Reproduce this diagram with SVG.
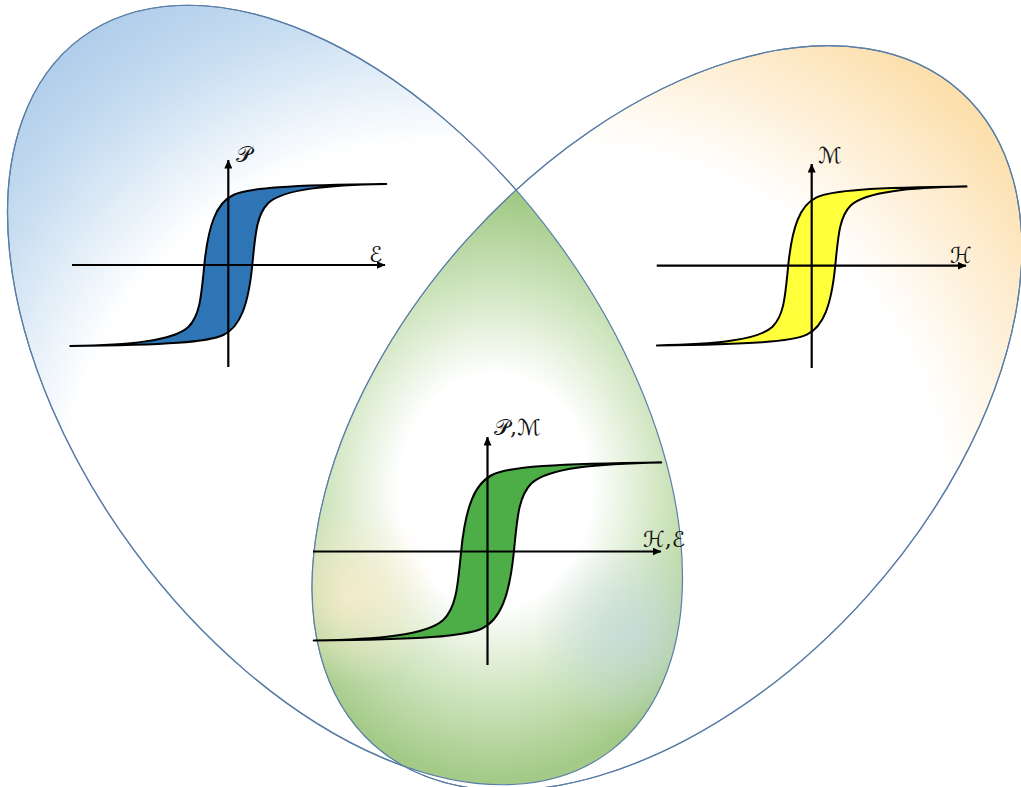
<svg xmlns="http://www.w3.org/2000/svg" xmlns:xlink="http://www.w3.org/1999/xlink" width="1021" height="787" viewBox="0 0 1021 787">
<style>
.rim{stroke:#5b7fa7;stroke-width:1.2}
.rimonly{fill:none;stroke:#5b7fa7;stroke-width:1.2}
.axis{fill:none;stroke:#000;stroke-width:2.2}
.loopline{stroke:#000;stroke-linejoin:round}
.lbl{font-family:"DejaVu Serif","DejaVu Sans",serif;font-size:22px;fill:#111}
</style>
<defs>
<marker id="arr" markerUnits="userSpaceOnUse" markerWidth="9" markerHeight="8" viewBox="0 0 9 8" refX="8.5" refY="4" orient="auto">
<path d="M0,0 L9,4 L0,8 z" fill="#000"/>
</marker>
<radialGradient id="gBlue" gradientUnits="userSpaceOnUse" cx="150" cy="0" r="620">
<stop offset="0" stop-color="#fff"/>
<stop offset="0.6" stop-color="#fff"/>
<stop offset="0.82" stop-color="#c7ddf1"/>
<stop offset="1" stop-color="#a9c8e8"/>
</radialGradient>
<radialGradient id="gOrange" gradientUnits="userSpaceOnUse" cx="-150" cy="0" r="620">
<stop offset="0" stop-color="#fff"/>
<stop offset="0.62" stop-color="#fff"/>
<stop offset="0.84" stop-color="#fde9c6"/>
<stop offset="1" stop-color="#fbd99b"/>
</radialGradient>
<radialGradient id="gGreen" gradientUnits="userSpaceOnUse" cx="0" cy="0" r="1" gradientTransform="translate(495,490) scale(240,290)">
<stop offset="0" stop-color="#fff"/>
<stop offset="0.4" stop-color="#fff"/>
<stop offset="0.68" stop-color="#d3e7c4"/>
<stop offset="1" stop-color="#a3ca87"/>
</radialGradient>
<radialGradient id="gBeige" gradientUnits="userSpaceOnUse" cx="350" cy="595" r="90">
<stop offset="0" stop-color="#fcedcc" stop-opacity="0.8"/>
<stop offset="1" stop-color="#fcedcc" stop-opacity="0"/>
</radialGradient>
<radialGradient id="gSteel" gradientUnits="userSpaceOnUse" cx="630" cy="635" r="95">
<stop offset="0" stop-color="#c6dae2" stop-opacity="0.75"/>
<stop offset="1" stop-color="#c6dae2" stop-opacity="0"/>
</radialGradient>
<clipPath id="clipL">
<ellipse cx="0" cy="0" rx="444" ry="262" transform="translate(345,395) rotate(53.6)"/>
</clipPath>
<clipPath id="clipR">
<ellipse cx="0" cy="0" rx="439" ry="268" transform="translate(667,418) rotate(-48)"/>
</clipPath>
<path id="loop" d="M158,-81 C60,-80 20,-77 5,-70 C-12,-62 -20,-40 -24,0 C-27,30 -28,50 -40,62 C-55,76 -100,80 -158,81 C-60,80 -20,77 -5,70 C12,62 20,40 24,0 C27,-30 28,-50 40,-62 C55,-76 100,-80 158,-81 Z"/>
</defs>

<rect width="1021" height="787" fill="#fff"/>

<g id="set-ferroelectric">
<ellipse cx="0" cy="0" rx="444" ry="262" transform="translate(345,395) rotate(53.6)" fill="url(#gBlue)" class="rim"/>
</g>
<g id="set-ferromagnetic">
<ellipse cx="0" cy="0" rx="439" ry="268" transform="translate(667,418) rotate(-48)" fill="url(#gOrange)" class="rim"/>
</g>
<g id="set-multiferroic">
<g clip-path="url(#clipL)">
<g clip-path="url(#clipR)">
<rect x="280" y="170" width="430" height="620" fill="url(#gGreen)"/>
<rect x="280" y="170" width="430" height="620" fill="url(#gBeige)"/>
<rect x="280" y="170" width="430" height="620" fill="url(#gSteel)"/>
</g>
</g>
<ellipse cx="0" cy="0" rx="444" ry="262" transform="translate(345,395) rotate(53.6)" class="rimonly"/>
<ellipse cx="0" cy="0" rx="439" ry="268" transform="translate(667,418) rotate(-48)" class="rimonly"/>
</g>

<g id="loop-ferroelectric">
<use xlink:href="#loop" transform="translate(228.3,265)" fill="#2e75b6" class="loopline" stroke-width="2"/>
<line x1="72" y1="265" x2="385" y2="265" class="axis" marker-end="url(#arr)"/>
<line x1="228.3" y1="367" x2="228.3" y2="160" class="axis" marker-end="url(#arr)"/>
<text x="236" y="162" class="lbl">𝒫</text>
<text x="369" y="262" class="lbl">ℰ</text>
</g>

<g id="loop-ferromagnetic">
<use xlink:href="#loop" transform="translate(811.7,266) scale(0.98)" fill="#ffff3a" class="loopline" stroke-width="2.04"/>
<line x1="656.7" y1="265.7" x2="966" y2="265.7" class="axis" marker-end="url(#arr)"/>
<line x1="811.7" y1="368" x2="811.7" y2="164" class="axis" marker-end="url(#arr)"/>
<text x="818" y="163" class="lbl">ℳ</text>
<text x="950" y="263" class="lbl">ℋ</text>
</g>

<g id="loop-multiferroic">
<use xlink:href="#loop" transform="translate(487.5,551.5) scale(1.1)" fill="#4dae48" class="loopline" stroke-width="1.85"/>
<line x1="313" y1="551.5" x2="661" y2="551.5" class="axis" marker-end="url(#arr)"/>
<line x1="487.5" y1="665" x2="487.5" y2="437" class="axis" marker-end="url(#arr)"/>
<text x="494" y="435" class="lbl">𝒫,ℳ</text>
<text x="643" y="547" class="lbl">ℋ,ℰ</text>
</g>

<g id="connectors"/>
</svg>
